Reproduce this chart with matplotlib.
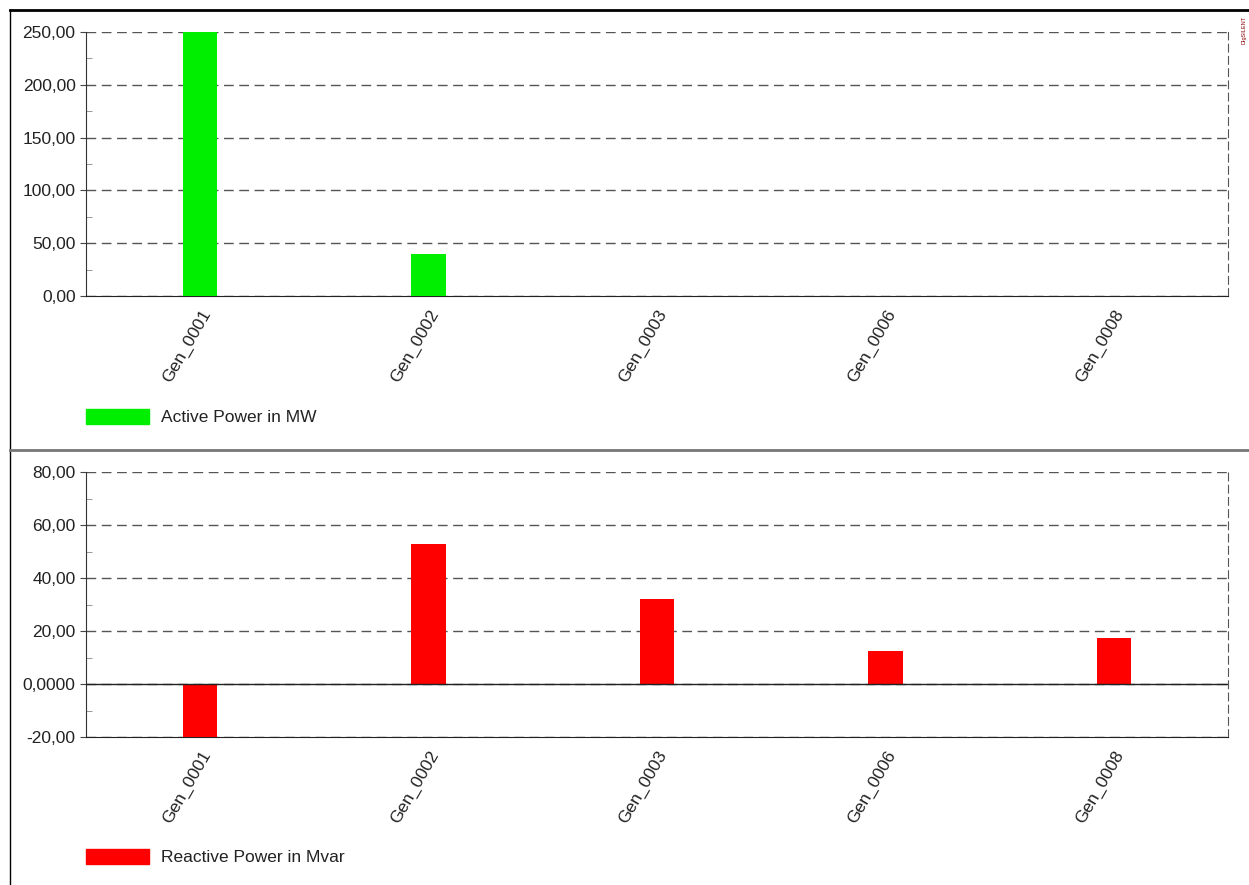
import matplotlib
matplotlib.use("Agg")
import matplotlib.pyplot as plt
import numpy as np
from matplotlib.lines import Line2D
from matplotlib.patches import Patch
from matplotlib.ticker import FuncFormatter, AutoMinorLocator, MultipleLocator

plt.rcParams['font.family'] = ['Liberation Sans', 'DejaVu Sans']

# data
generators = ['Gen_0001', 'Gen_0002', 'Gen_0003', 'Gen_0006', 'Gen_0008']
active_mw = [250.0, 40.0, 0.4, 0.4, 0.4]
reactive_mvar = [-22.0, 53.0, 32.0, 12.5, 17.5]

W, H = 1249, 885
fig = plt.figure(figsize=(W / 100, H / 100), dpi=100)


def px_axes(left, top, right, bottom):
    return fig.add_axes([left / W, 1 - bottom / H, (right - left) / W, (bottom - top) / H])


def fmt_top(v, pos):
    return f"{v:.2f}".replace('.', ',')


def fmt_bottom(v, pos):
    if abs(v) < 1e-9:
        return "0,0000"
    return f"{v:.2f}".replace('.', ',')


def style_axes(ax, ymin, ymax, step, formatter, color, values):
    x = np.arange(len(generators))
    ax.bar(x, values, width=0.15, color=color, zorder=3)
    ax.set_xlim(-0.5, len(generators) - 0.5)
    ax.set_ylim(ymin, ymax)
    ax.yaxis.set_major_locator(MultipleLocator(step))
    ax.yaxis.set_minor_locator(AutoMinorLocator(2))
    ax.yaxis.set_major_formatter(FuncFormatter(formatter))
    ax.set_xticks(x)
    ax.set_xticklabels(generators, rotation=60, ha='right', va='top',
                       rotation_mode='anchor', fontsize=12.5, color='#222222')
    ax.tick_params(axis='x', length=0, pad=8)
    ax.tick_params(axis='y', which='major', direction='out', length=4,
                   labelsize=12.5, labelcolor='#222222', color='#444444')
    ax.tick_params(axis='y', which='minor', direction='in', length=4, color='#888888')
    ax.grid(axis='y', which='major', linestyle=(0, (7, 4)), color='#555555',
            linewidth=1.0, zorder=1)
    for s in ('top',):
        ax.spines[s].set_visible(False)
    ax.spines['right'].set_linestyle((0, (7, 4)))
    ax.spines['right'].set_color('#555555')
    ax.spines['left'].set_color('#333333')
    ax.spines['bottom'].set_color('#222222')
    ax.set_facecolor('none')


ax1 = px_axes(86, 32, 1228, 296)
style_axes(ax1, 0, 250, 50, fmt_top, '#00ee00', active_mw)

ax2 = px_axes(86, 472, 1228, 737)
style_axes(ax2, -20, 80, 20, fmt_bottom, '#ff0000', reactive_mvar)
ax2.axhline(0, color='#222222', linewidth=1.0, zorder=4)

# legends below each panel
leg_kw = dict(loc='center left', frameon=False, fontsize=12.5, handlelength=3.6,
              handleheight=1.0, handletextpad=0.7, borderaxespad=0, borderpad=0)
l1 = fig.legend(handles=[Patch(color='#00ee00', label='Active Power in MW')],
                bbox_to_anchor=(86 / W, 1 - 417 / H), **leg_kw)
l2 = fig.legend(handles=[Patch(color='#ff0000', label='Reactive Power in Mvar')],
                bbox_to_anchor=(86 / W, 1 - 857 / H), **leg_kw)
for t in l1.get_texts() + l2.get_texts():
    t.set_color('#222222')

# outer frame and separator
fig.add_artist(Line2D([10 / W, 1], [1 - 10 / H, 1 - 10 / H], color='black', linewidth=2))
fig.add_artist(Line2D([10 / W, 10 / W], [0, 1 - 10 / H], color='black', linewidth=1))
fig.add_artist(Line2D([10 / W, 1], [1 - 450 / H, 1 - 450 / H], color='#777777', linewidth=2))

fig.text(1244 / W, 1 - 16 / H, 'DIgSILENT', rotation=90, fontsize=4,
         color='#8b0000', ha='center', va='top')

fig.savefig('out.png', dpi=100)
